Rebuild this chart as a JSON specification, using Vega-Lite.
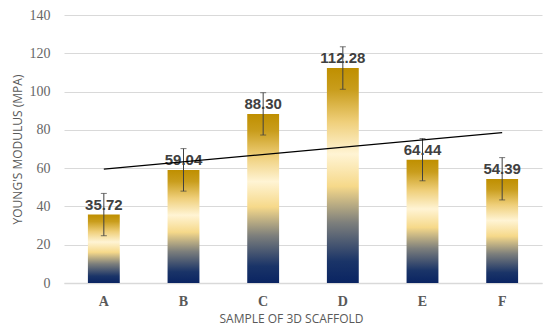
{
  "$schema": "https://vega.github.io/schema/vega-lite/v6.json",
  "width": 478,
  "height": 268,
  "autosize": {"type": "none"},
  "padding": {"left": 64, "top": 15, "right": 8, "bottom": 46},
  "background": "white",
  "config": {"view": {"stroke": null}},
  "datasets": {
    "bars": [
      {"sample": "A", "value": 35.72, "low": 24.7, "high": 46.8, "label": "35.72"},
      {"sample": "B", "value": 59.04, "low": 48.0, "high": 70.2, "label": "59.04"},
      {"sample": "C", "value": 88.30, "low": 77.3, "high": 99.4, "label": "88.30"},
      {"sample": "D", "value": 112.28, "low": 101.2, "high": 123.4, "label": "112.28"},
      {"sample": "E", "value": 64.44, "low": 53.4, "high": 75.5, "label": "64.44"},
      {"sample": "F", "value": 54.39, "low": 43.4, "high": 65.5, "label": "54.39"}
    ],
    "trend": [
      {"sample": "A", "trend": 59.5},
      {"sample": "F", "trend": 78.6}
    ]
  },
  "encoding": {
    "x": {
      "field": "sample", "type": "nominal", "sort": null,
      "scale": {"domain": ["A", "B", "C", "D", "E", "F"], "paddingInner": 0.6, "paddingOuter": 0.3},
      "axis": {
        "title": "SAMPLE OF 3D SCAFFOLD", "labelAngle": 0, "ticks": false,
        "domainColor": "#d9d9d9", "domainWidth": 1.5,
        "labelFont": "Liberation Serif", "labelFontWeight": "bold", "labelFontSize": 14, "labelColor": "#595959", "labelPadding": 11,
        "titleFont": "Open Sans", "titleFontWeight": "normal", "titleFontSize": 12, "titleColor": "#595959",
        "titleX": 227, "titleY": 30, "titleBaseline": "top", "titleAlign": "center"
      }
    },
    "y": {
      "field": "value", "type": "quantitative",
      "scale": {"domain": [0, 140]},
      "axis": {
        "title": "YOUNG'S MODULUS (MPA)", "values": [0, 20, 40, 60, 80, 100, 120, 140], "labelOverlap": false,
        "ticks": false, "domain": false, "gridColor": "#d9d9d9", "gridWidth": 1,
        "labelFont": "Liberation Serif", "labelFontSize": 14, "labelColor": "#666666", "labelPadding": 14,
        "titleFont": "Open Sans", "titleFontWeight": "normal", "titleFontSize": 12, "titleColor": "#595959", "titleX": -47, "titleY": 134, "titleAlign": "center", "titleBaseline": "middle", "titleAngle": -90
      }
    }
  },
  "layer": [
    {
      "data": {"name": "bars"},
      "mark": {
        "type": "bar",
        "color": {
          "gradient": "linear", "x1": 0, "y1": 1, "x2": 0, "y2": 0,
          "stops": [
            {"offset": 0, "color": "#0a2462"},
            {"offset": 0.1, "color": "#1a3468"},
            {"offset": 0.28, "color": "#7d7f7c"},
            {"offset": 0.45, "color": "#f6d98a"},
            {"offset": 0.6, "color": "#fff4d4"},
            {"offset": 0.75, "color": "#efcf7a"},
            {"offset": 0.9, "color": "#c99d1c"},
            {"offset": 1, "color": "#bf8f00"}
          ]
        }
      }
    },
    {
      "data": {"name": "bars"},
      "mark": {"type": "text", "font": "Liberation Sans", "fontWeight": "bold", "fontSize": 15, "color": "#404040", "baseline": "alphabetic", "dy": -5},
      "encoding": {
        "text": {"field": "label"}
      }
    },
    {
      "data": {"name": "bars"},
      "mark": {"type": "rule", "color": "#404040", "strokeWidth": 1},
      "encoding": {
        "y": {"field": "low", "type": "quantitative"},
        "y2": {"field": "high"}
      }
    },
    {
      "data": {"name": "bars"},
      "mark": {"type": "tick", "color": "#404040", "thickness": 1, "size": 6},
      "encoding": {
        "y": {"field": "low", "type": "quantitative"}
      }
    },
    {
      "data": {"name": "bars"},
      "mark": {"type": "tick", "color": "#404040", "thickness": 1, "size": 6},
      "encoding": {
        "y": {"field": "high", "type": "quantitative"}
      }
    },
    {
      "data": {"name": "trend"},
      "mark": {"type": "line", "color": "#000000", "strokeWidth": 1.3},
      "encoding": {
        "y": {"field": "trend", "type": "quantitative"}
      }
    }
  ]
}
